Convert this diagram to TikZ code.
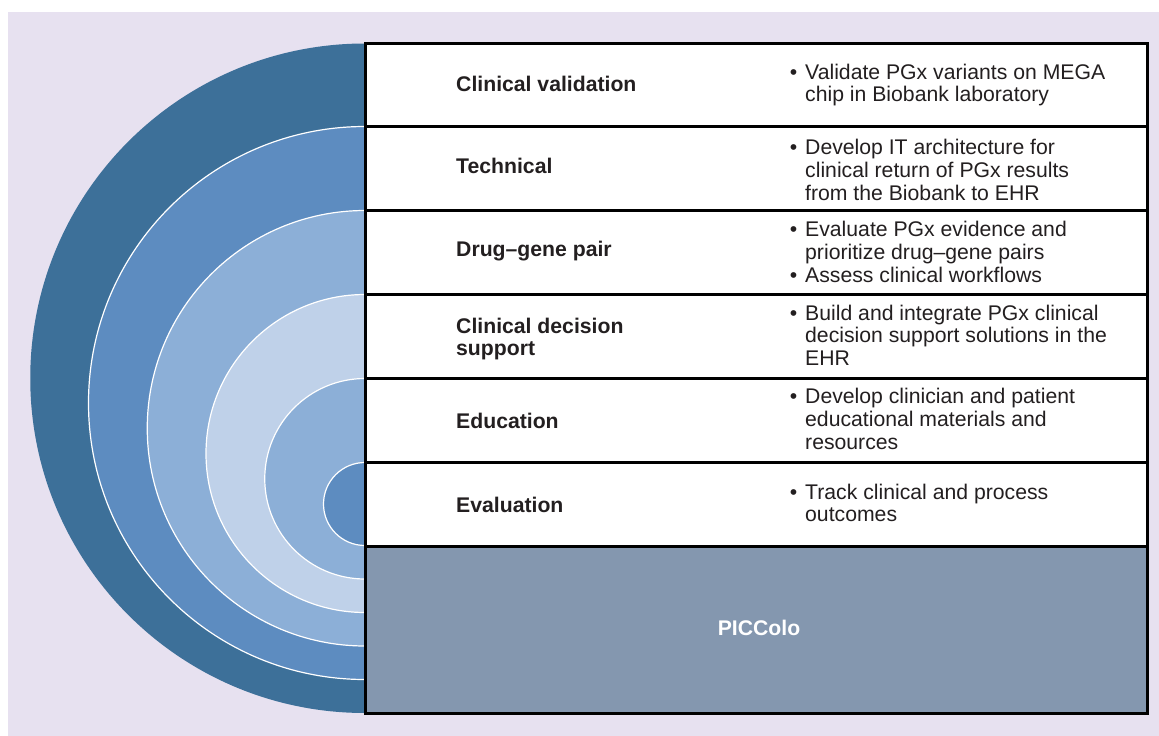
\documentclass[tikz,border=0pt]{standalone}
\usepackage{fontspec}
\setmainfont{Liberation Sans}
\definecolor{lav}{HTML}{E7E1F0}
\definecolor{cA}{HTML}{3D7099}
\definecolor{cB}{HTML}{5D8CC0}
\definecolor{cC}{HTML}{8CAFD7}
\definecolor{cD}{HTML}{BFD1E9}
\definecolor{pic}{HTML}{8497AF}
\definecolor{txt}{HTML}{231F20}
\newcommand{\bulletmark}{\llap{•\hspace{8pt}}}
\begin{document}
\begin{tikzpicture}[x=1pt,y=-1pt,
  lab/.style={anchor=west, font=\fontsize{21.2}{22.6}\selectfont\bfseries, text=txt, align=left, inner sep=0pt},
  desc/.style={anchor=west, font=\fontsize{21.2}{22.6}\selectfont, text=txt, align=left, inner sep=0pt},
  ring/.style={draw=white, line width=1.2pt},
  rowbox/.style={draw=black, line width=3pt, fill=white}]
\useasboundingbox (0,0) rectangle (1159,736);
\fill[lav] (8,12) rectangle (1159,736);
% nested half discs
\begin{scope}
\clip (0,0) rectangle (365,736);
\fill[cA] (365,378.25) circle (334.75pt);
\filldraw[cB, ring] (365,403) circle (276.5pt);
\filldraw[cC, ring] (365,428.25) circle (217.75pt);
\filldraw[cD, ring] (365,453.5) circle (159pt);
\filldraw[cC, ring] (365,478.75) circle (100.25pt);
\filldraw[cB, ring] (365,504) circle (41.5pt);
\end{scope}
% table
\fill[white] (365,43.5) rectangle (1147,546);
\fill[pic] (365,546) rectangle (1147,713.5);
\draw[line width=3pt] (365,43.5) rectangle (1147,713.5);
\foreach \yy in {126.5,210.5,294.5,378.5,462.5,546}
  \draw[line width=3pt] (365,\yy) -- (1147,\yy);
% labels
\node[lab] (l1) at (456,84) {Clinical validation};
\node[lab] (l2) at (456,166) {Technical};
\node[lab] (l3) at (456,251) {Drug–gene pair};
\node[lab] (l4) at (456,339) {Clinical decision\\support};
\node[lab] (l5) at (456,421) {Education};
\node[lab] (l6) at (456,505) {Evaluation};
% descriptions
\node[desc] (d1) at (805,85) {\bulletmark Validate PGx variants on MEGA\\chip in Biobank laboratory};
\node[desc] (d2) at (805,170) {\bulletmark Develop IT architecture for\\clinical return of PGx results\\from the Biobank to EHR};
\node[desc] (d3) at (805,252) {\bulletmark Evaluate PGx evidence and\\prioritize drug–gene pairs\\\bulletmark Assess clinical workflows};
\node[desc] (d4) at (805,335) {\bulletmark Build and integrate PGx clinical\\decision support solutions in the\\EHR};
\node[desc] (d5) at (805,419) {\bulletmark Develop clinician and patient\\educational materials and\\resources};
\node[desc] (d6) at (805,503) {\bulletmark Track clinical and process\\outcomes};
\node[lab, anchor=center, text=white] (pc) at (759,628) {PICColo};
\end{tikzpicture}
\end{document}
